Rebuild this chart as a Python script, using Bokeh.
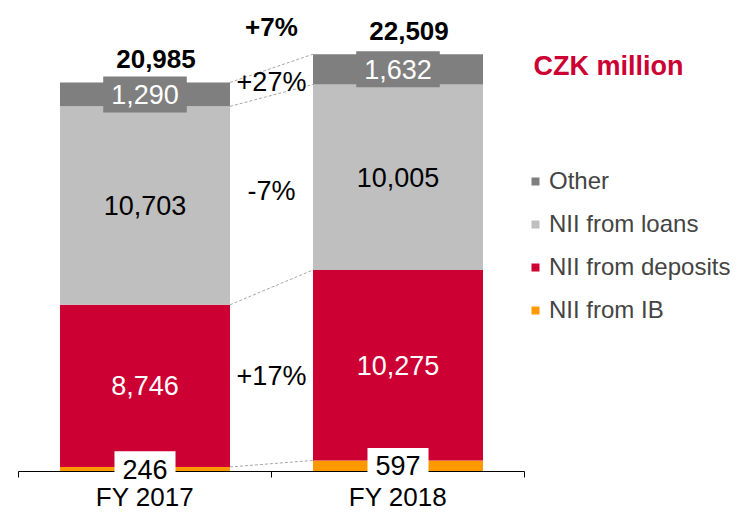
from bokeh.plotting import figure
from bokeh.models import (ColumnDataSource, Range1d, FixedTicker, Legend, LegendItem, Label)
from bokeh.core.properties import value
from bokeh.embed import file_html
from bokeh.resources import INLINE

# ---- data ----
years = ["FY 2017", "FY 2018"]
series = ["NII from IB", "NII from deposits", "NII from loans", "Other"]
nii_ib = [246, 597]
nii_deposits = [8746, 10275]
nii_loans = [10703, 10005]
other = [1290, 1632]
totals = [20985, 22509]
changes = ["+17%", "-7%", "+27%"]      # deposits, loans, other
total_change = "+7%"
unit_label = "CZK million"

# ---- styles ----
colors = ["#FF9900", "#CC0033", "#BFBFBF", "#7F7F7F"]
box_colors = ["#FFFFFF", "#CC0033", "#BFBFBF", "#7F7F7F"]
text_colors = ["#000000", "#FFFFFF", "#000000", "#FFFFFF"]
FONT = "Liberation Sans"
BAR_W = 0.672

xs = [i + 0.5 for i in range(len(years))]
values = [nii_ib, nii_deposits, nii_loans, other]
keys = ["ib", "dep", "loan", "oth"]

p = figure(width=738, height=512, output_backend="svg", toolbar_location=None,
           x_range=Range1d(-0.0711, 2.8458), y_range=Range1d(-2211, 25405),
           min_border=0)
p.outline_line_color = None
p.grid.visible = False
p.yaxis.visible = False
p.background_fill_color = "white"

src = ColumnDataSource(dict(x=xs, **{k: v for k, v in zip(keys, values)}))
rs = p.vbar_stack(keys, x="x", width=BAR_W, color=colors, line_color=None, source=src)

# cumulative levels
cum = []
run = [0, 0]
for v in values:
    run = [run[j] + v[j] for j in range(2)]
    cum.append(list(run))

# dashed connectors
p.segment(x0=[xs[0] + BAR_W / 2] * 4, y0=[c[0] for c in cum],
          x1=[xs[1] - BAR_W / 2] * 4, y1=[c[1] for c in cum],
          line_color="#A6A6A6", line_dash="3 2", line_width=1)

# segment labels with boxes
lx, ly, lt, bw, bc, tc = [], [], [], [], [], []
for i, v in enumerate(values):
    for j in range(2):
        base = cum[i][j] - v[j]
        txt = f"{v[j]:,}"
        lx.append(xs[j]); ly.append(base + v[j] / 2); lt.append(txt)
        ndig = sum(ch.isdigit() for ch in txt)
        bw.append(ndig * 0.556 * 27 + txt.count(",") * 0.278 * 27 + 16)
        bc.append(box_colors[i]); tc.append(text_colors[i])
lsrc = ColumnDataSource(dict(x=lx, y=ly, t=lt, w=bw, bc=bc, tc=tc))
p.rect(x="x", y="y", width="w", height=36, width_units="screen", height_units="screen",
       fill_color="bc", line_color=None, source=lsrc, level="overlay")
p.text(x="x", y="y", text="t", text_color="tc", text_align="center", text_baseline="middle",
       text_font=value(FONT), text_font_size="27px", source=lsrc, level="overlay")

# totals
p.text(x=xs, y=totals, text=[f"{t:,}" for t in totals], text_align="center",
       text_baseline="middle", text_font=value(FONT), text_font_size="26px",
       text_font_style="bold", text_color="#000000", x_offset=11, y_offset=-23)

# change labels
mid_x = (xs[0] + xs[1]) / 2
cy = []
for i in range(1, 4):
    c = [(cum[i][j] - values[i][j] / 2) for j in range(2)]
    cy.append(sum(c) / 2)
p.text(x=[mid_x] * 3, y=cy, text=changes, text_align="center", text_baseline="middle",
       text_font=value(FONT), text_font_size="27px", text_color="#000000")
p.text(x=[mid_x], y=[max(totals)], text=[total_change], text_align="center",
       text_baseline="middle", text_font=value(FONT), text_font_size="26px",
       text_font_style="bold", text_color="#000000", y_offset=-27)

# x axis
ax = p.xaxis[0]
ax.fixed_location = 0
ax.bounds = (0, len(years))
ax.ticker = FixedTicker(ticks=xs, minor_ticks=list(range(len(years) + 1)))
ax.major_label_overrides = {x: y for x, y in zip(xs, years)}
ax.major_tick_line_color = None
ax.major_tick_out = 0
ax.major_tick_in = 0
ax.minor_tick_in = 0
ax.minor_tick_out = 6
ax.minor_tick_line_color = "#000000"
ax.axis_line_color = "#000000"
ax.major_label_text_font = FONT
ax.major_label_text_font_size = "26px"
ax.major_label_text_color = "#000000"
ax.major_label_standoff = 4

# legend
items = [LegendItem(label=series[i], renderers=[rs[i]]) for i in reversed(range(4))]
legend = Legend(items=items, location=(530, 188), glyph_width=10, glyph_height=10,
                label_text_font=FONT, label_text_font_size="24px", label_standoff=9,
                spacing=15, padding=0, margin=0, border_line_alpha=0,
                background_fill_alpha=0)
p.add_layout(legend)

p.add_layout(Label(x=533, y=447, x_units="screen", y_units="screen", text=unit_label,
                   text_font=FONT, text_font_size="27px", text_font_style="bold",
                   text_color="#CC0033", text_baseline="middle"))

open("out.html", "w").write(file_html(p, INLINE))
